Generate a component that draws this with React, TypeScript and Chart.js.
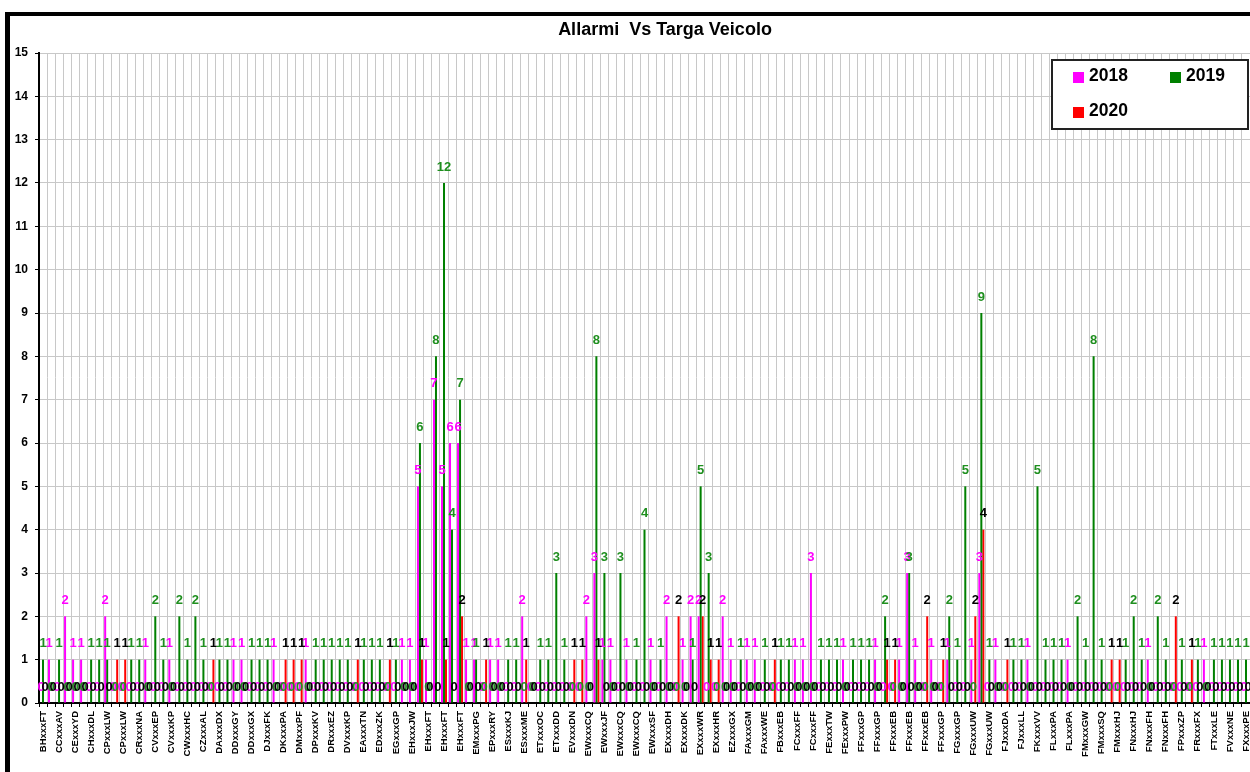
import React, { useEffect, useRef } from 'react';
import { Chart, registerables } from 'chart.js';

Chart.register(...registerables);

// Tick labels shown on the axis (every other plate is labelled)
const tickLabels = [
  'BHxxxFT', 'CCxxxAV', 'CExxxYD', 'CHxxxDL', 'CPxxxLW', 'CPxxxLW', 'CRxxxNA', 'CVxxxEP', 'CVxxxKP', 'CWxxxHC',
  'CZxxxAL', 'DAxxxDX', 'DDxxxGY', 'DDxxxGX', 'DJxxxFK', 'DKxxxPA', 'DMxxxPF', 'DPxxxKV', 'DRxxxEZ', 'DVxxxKP',
  'EAxxxTN', 'EDxxxZK', 'EGxxxGP', 'EHxxxJW', 'EHxxxFT', 'EHxxxFT', 'EHxxxFT', 'EMxxxPG', 'EPxxxRY', 'ESxxxKJ',
  'ESxxxME', 'ETxxxOC', 'ETxxxDD', 'EVxxxDN', 'EWxxxCQ', 'EWxxxJF', 'EWxxxCQ', 'EWxxxCQ', 'EWxxxSF', 'EXxxxDH',
  'EXxxxDK', 'EXxxxWR', 'EXxxxHR', 'EZxxxGX', 'FAxxxGM', 'FAxxxWE', 'FBxxxEB', 'FCxxxFF', 'FCxxxFF', 'FExxxTW',
  'FExxxPW', 'FFxxxGP', 'FFxxxGP', 'FFxxxEB', 'FFxxxEB', 'FFxxxEB', 'FFxxxGP', 'FGxxxGP', 'FGxxxUW', 'FGxxxUW',
  'FJxxxDA', 'FJxxxLL', 'FKxxxVV', 'FLxxxPA', 'FLxxxPA', 'FMxxxGW', 'FMxxxSQ', 'FMxxxHJ', 'FNxxxHJ', 'FNxxxFH',
  'FNxxxFH', 'FPxxxZP', 'FRxxxFX', 'FTxxxLE', 'FVxxxNE', 'FXxxxPE',
];

// Categories: labelled plates alternate with unlabelled ones
const categories: string[] = tickLabels.flatMap((t, i) => (i < tickLabels.length - 1 ? [t, ''] : [t]));

const yTicks = [0, 15];

const values2018 = [
  0, 1, 0, 2, 1, 1, 0, 0, 2, 0,
  0, 0, 0, 1, 0, 0, 1, 0, 0, 0,
  0, 0, 0, 0, 1, 1, 0, 0, 0, 1,
  0, 0, 0, 1, 0, 0, 0, 0, 0, 0,
  0, 0, 0, 0, 0, 1, 1, 5, 1, 7,
  5, 6, 6, 1, 1, 0, 1, 1, 0, 0,
  2, 0, 0, 0, 0, 0, 0, 0, 2, 3,
  1, 1, 0, 1, 0, 0, 1, 0, 2, 0,
  1, 2, 2, 0, 0, 2, 1, 0, 1, 1,
  0, 0, 0, 0, 1, 1, 3, 0, 0, 0,
  1, 0, 0, 0, 1, 0, 0, 1, 3, 1,
  0, 1, 0, 1, 0, 0, 1, 3, 0, 1,
  0, 0, 0, 1, 0, 0, 0, 0, 1, 0,
  0, 0, 0, 0, 0, 0, 0, 0, 1, 0,
  0, 0, 0, 0, 0, 1, 0, 0, 0, 0,
  0,
];

const values2019 = [
  1, 0, 1, 0, 0, 0, 1, 1, 1, 0,
  0, 1, 1, 0, 2, 1, 0, 2, 1, 2,
  1, 0, 1, 1, 0, 0, 1, 1, 1, 0,
  0, 0, 0, 0, 1, 1, 1, 1, 1, 0,
  1, 1, 1, 0, 1, 0, 0, 6, 0, 8,
  12, 4, 7, 0, 1, 0, 0, 0, 1, 1,
  0, 0, 1, 1, 3, 1, 0, 0, 0, 8,
  3, 0, 3, 0, 1, 4, 0, 1, 0, 0,
  0, 1, 5, 3, 0, 0, 0, 1, 0, 0,
  1, 0, 1, 1, 0, 0, 0, 1, 1, 1,
  0, 1, 1, 1, 0, 2, 0, 0, 3, 0,
  0, 0, 0, 2, 1, 5, 0, 9, 1, 0,
  0, 1, 1, 0, 5, 1, 1, 1, 0, 2,
  1, 8, 1, 0, 0, 1, 2, 1, 0, 2,
  1, 0, 1, 0, 1, 0, 1, 1, 1, 1,
  1,
];

const values2020 = [
  0, 0, 0, 0, 0, 0, 0, 0, 0, 1,
  1, 0, 0, 0, 0, 0, 0, 0, 0, 0,
  0, 1, 0, 0, 0, 0, 0, 0, 0, 0,
  1, 1, 1, 0, 0, 0, 0, 0, 0, 1,
  0, 0, 0, 1, 0, 0, 0, 1, 0, 0,
  1, 0, 2, 0, 0, 1, 0, 0, 0, 0,
  1, 0, 0, 0, 0, 0, 1, 1, 0, 1,
  0, 0, 0, 0, 0, 0, 0, 0, 0, 2,
  0, 0, 2, 1, 1, 0, 0, 0, 0, 0,
  0, 1, 0, 0, 0, 0, 0, 0, 0, 0,
  0, 0, 0, 0, 0, 1, 1, 0, 0, 0,
  2, 0, 1, 0, 0, 0, 2, 4, 0, 0,
  1, 0, 0, 0, 0, 0, 0, 0, 0, 0,
  0, 0, 0, 1, 1, 0, 0, 0, 0, 0,
  0, 2, 0, 1, 0, 0, 0, 0, 0, 0,
  0,
];

const seriesNames = ['2018', '2019', '2020'];
const barColors = ['#ff00ff', '#008000', '#ff0000'];
const labelColors = ['#ff00ff', '#1f8f1f', '#000000'];

const FONT = '"Liberation Sans", Arial, sans-serif';

const overlayPlugin = {
  id: 'overlayPlugin',
  afterDatasetsDraw(chart: any) {
    const ctx = chart.ctx;
    ctx.save();
    ctx.font = `bold 13px ${FONT}`;
    ctx.textAlign = 'center';
    ctx.textBaseline = 'middle';
    chart.data.datasets.forEach((ds: any, di: number) => {
      const meta = chart.getDatasetMeta(di);
      ctx.fillStyle = labelColors[di];
      meta.data.forEach((el: any, i: number) => {
        ctx.fillText(String(ds.data[i]), el.x, el.y - 16);
      });
    });
    ctx.restore();
  },
  afterDraw(chart: any) {
    const ctx = chart.ctx;
    ctx.save();
    // outer frame (left and top edges)
    ctx.fillStyle = '#000';
    ctx.fillRect(5, 12, 5, 772 - 12);
    ctx.fillRect(5, 12, 1250 - 5, 4);

    // title
    ctx.font = `bold 18px ${FONT}`;
    ctx.textAlign = 'center';
    ctx.textBaseline = 'middle';
    ctx.fillStyle = '#000';
    ctx.fillText('Allarmi  Vs Targa Veicolo', 665, 30);

    // legend box
    ctx.fillStyle = '#fff';
    ctx.fillRect(1052, 60, 196, 69);
    ctx.strokeStyle = '#222';
    ctx.lineWidth = 2;
    ctx.strokeRect(1052, 60, 196, 69);
    const items = [
      { x: 1073, y: 72, tx: 1089, ty: 76 },
      { x: 1170, y: 72, tx: 1186, ty: 76 },
      { x: 1073, y: 107, tx: 1089, ty: 111 },
    ];
    ctx.font = `bold 17.5px ${FONT}`;
    ctx.textAlign = 'left';
    items.forEach((it, i) => {
      ctx.fillStyle = barColors[i];
      ctx.fillRect(it.x, it.y, 11, 11);
      ctx.fillStyle = '#000';
      ctx.fillText(seriesNames[i], it.tx, it.ty);
    });
    ctx.restore();
  },
};

export default function App() {
  const ref = useRef<HTMLCanvasElement | null>(null);

  useEffect(() => {
    if (!ref.current) return;
    const chart = new Chart(ref.current, {
      type: 'bar',
      data: {
        labels: categories,
        datasets: [values2018, values2019, values2020].map((vals, i) => ({
          label: seriesNames[i],
          data: vals,
          backgroundColor: barColors[i],
          borderWidth: 0,
          barPercentage: 1,
          categoryPercentage: 0.75,
        })),
      },
      options: {
        responsive: false,
        animation: false,
        devicePixelRatio: 1,
        layout: { padding: { top: 53, left: 0, right: 0, bottom: 0 } },
        plugins: {
          legend: { display: false },
          title: { display: false },
          tooltip: { enabled: false },
        },
        scales: {
          x: {
            afterFit: (scale: any) => {
              scale.height = 69;
              scale.paddingLeft = 0;
              scale.paddingRight = 0;
            },
            grid: {
              color: '#c8c8c8',
              lineWidth: 1,
              tickColor: '#000',
              tickLength: 4,
              offset: true,
            },
            border: { color: '#000', width: 2 },
            ticks: {
              autoSkip: false,
              maxRotation: 90,
              minRotation: 90,
              padding: 4,
              color: '#000',
              font: { family: FONT, size: 9.5, weight: 'bold' },
            },
          },
          y: {
            min: yTicks[0],
            max: yTicks[1],
            afterFit: (scale: any) => {
              scale.width = 39;
              scale.paddingTop = 0;
              scale.paddingBottom = 0;
            },
            grid: {
              color: '#c8c8c8',
              lineWidth: 1,
              tickColor: '#000',
              tickLength: 4,
            },
            border: { color: '#000', width: 2 },
            ticks: {
              stepSize: 1,
              padding: 7,
              color: '#000',
              font: { family: FONT, size: 12, weight: 'bold' },
            },
          },
        },
      },
      plugins: [overlayPlugin],
    });
    return () => chart.destroy();
  }, []);

  return (
    <div style={{ position: 'fixed', left: 0, top: 0, width: 1250, height: 772, background: '#fff' }}>
      <canvas ref={ref} width={1250} height={772} style={{ width: 1250, height: 772, display: 'block' }} />
    </div>
  );
}
